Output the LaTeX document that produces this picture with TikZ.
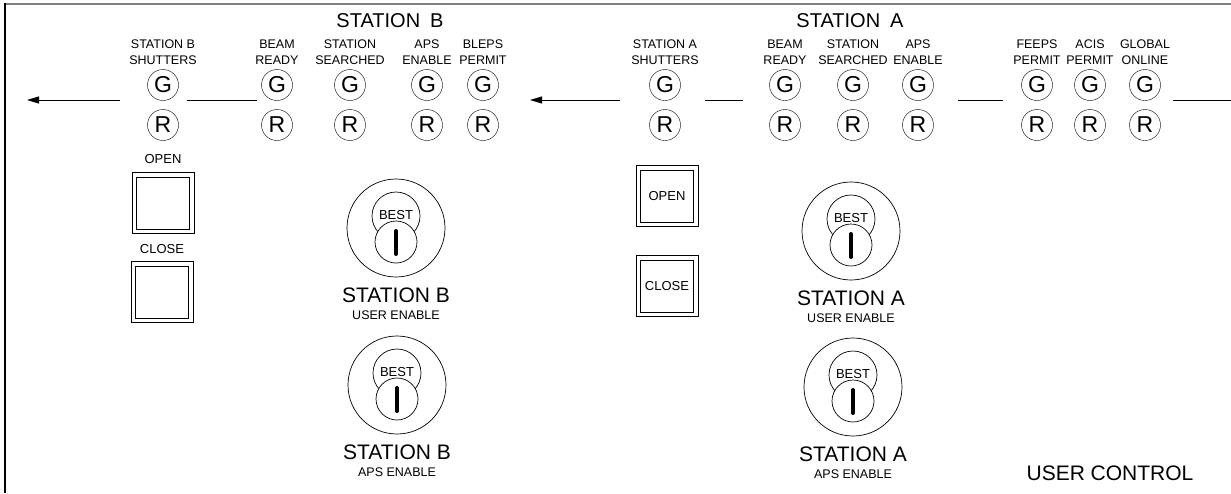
\documentclass[tikz,border=0pt]{standalone}
\usepackage{fontspec}
\setmainfont{Liberation Sans}
\usetikzlibrary{positioning,arrows.meta,calc}
\definecolor{framegrey}{HTML}{808080}
\definecolor{inkblack}{HTML}{000000}

\begin{document}
\begin{tikzpicture}[
  x=1pt, y=-1pt,
  lamplabel/.style={inner sep=0pt, align=center, font=\fontsize{12.5}{16}\selectfont},
  lamp/.style={draw=inkblack, circle, minimum size=31pt, inner sep=0pt,
               font=\fontsize{23}{23}\selectfont},
  heading/.style={inner sep=0pt, font=\fontsize{20}{20}\selectfont},
  signal/.style={draw=inkblack, line width=0.8pt},
  arrow/.style={signal, -{Triangle[length=12pt, width=7pt]}},
  button/.style={draw=inkblack, line width=0.6pt, minimum width=62pt,
                 minimum height=61pt, inner sep=0pt, font=\fontsize{13}{13}\selectfont},
  btnlabel/.style={inner sep=0pt, font=\fontsize{13}{13}\selectfont},
  keyring/.style={draw=inkblack, circle, minimum size=98pt, inner sep=0pt, line width=0.7pt},
  keybest/.style={draw=inkblack, circle, minimum size=48pt, inner sep=0pt, line width=0.7pt},
  keybarrel/.style={draw=inkblack, fill=white, circle, minimum size=42pt, inner sep=0pt,
                    line width=0.7pt},
  keyslot/.style={draw=inkblack, line width=4pt, line cap=round},
  keytitle/.style={inner sep=0pt, font=\fontsize{21}{21}\selectfont},
  keysub/.style={inner sep=0pt, font=\fontsize{12.5}{12.5}\selectfont},
]
\useasboundingbox (0,0) rectangle (1231,493);

% panel frame
\draw[framegrey, line width=2.5pt] (5,4) -- (1231,4);
\draw[inkblack, line width=1.2pt] (5,3) -- (5,493);

\node[heading] (hb) at (390,21) {STATION\hspace{0.5em}B};
\node[heading] (ha) at (850,21) {STATION\hspace{0.5em}A};

% indicator lamps
\foreach \x/\n/\t in {163/bshut/{STATION B\\SHUTTERS}, 277/bbeam/{BEAM\\READY},
    350/bsrch/{STATION\\SEARCHED}, 427/baps/{APS\\ENABLE}, 483/bbleps/{BLEPS\\PERMIT},
    665/ashut/{STATION A\\SHUTTERS}, 785/abeam/{BEAM\\READY},
    853/asrch/{STATION\\SEARCHED}, 918/aaps/{APS\\ENABLE}, 1037/feeps/{FEEPS\\PERMIT},
    1090/acis/{ACIS\\PERMIT}, 1145/glob/{GLOBAL\\ONLINE}}
{
  \node[lamplabel] (\n-l) at (\x,52) {\t};
  \node[lamp] (\n-g) at (\x,85) {G};
  \node[lamp] (\n-r) at (\x,125) {R};
}

% permit chain
\coordinate (c0) at (27,100);   \coordinate (c1) at (120,100);
\coordinate (c2) at (187,100);  \coordinate (c3) at (257,100);
\coordinate (c4) at (530,100);  \coordinate (c5) at (620,100);
\coordinate (c6) at (705,100);  \coordinate (c7) at (743,100);
\coordinate (c8) at (958,100);  \coordinate (c9) at (1003,100);
\coordinate (c10) at (1173,100); \coordinate (c11) at (1231,100);
\draw[arrow] (c1) -- (c0);
\draw[signal] (c2) -- (c3);
\draw[arrow] (c5) -- (c4);
\draw[signal] (c6) -- (c7);
\draw[signal] (c8) -- (c9);
\draw[signal] (c10) -- (c11);

% shutter push buttons
\node[button] (bopen) at (163,203) {};
\node[btnlabel, above=8pt of bopen] (bopen-l) {OPEN};
\node[button] (bclose) at (162,292) {};
\node[btnlabel, above=7pt of bclose] (bclose-l) {CLOSE};
\node[button] (aopen) at (667,196) {OPEN};
\node[button] (aclose) at (667,286) {CLOSE};
\foreach \b in {bopen,bclose,aopen,aclose}
  \draw[inkblack, line width=0.6pt] ($(\b.north west)+(5,5)$) rectangle ($(\b.south east)+(-5,-5)$);

% key switches
\foreach \x/\y/\n/\st/\sb in {396/228/buser/STATION B/USER ENABLE,
    851/231/auser/STATION A/USER ENABLE, 397/385/baps/STATION B/APS ENABLE,
    853/387/aaps/STATION A/APS ENABLE}
{
  \node[keyring] (\n-key) at (\x,\y) {};
  \node[keybest] (\n-best) at (\x,\y-12) {};
  \node[keybarrel] (\n-barrel) at (\x,\y+14) {};
  \node[inner sep=0pt, font=\fontsize{13}{13}\selectfont] (\n-bt) at (\x,\y-13) {BEST};
  \draw[keyslot] ([yshift=11pt]\n-barrel.center) -- ([yshift=-12pt]\n-barrel.center);
  \node[keytitle, below=10pt of \n-key] (\n-t) {\st};
  \node[keysub, below=8pt of \n-t] (\n-s) {\sb};
}

\node[heading, font=\fontsize{21}{21}\selectfont] (uc) at (1110,473) {USER CONTROL};
\end{tikzpicture}
\end{document}
